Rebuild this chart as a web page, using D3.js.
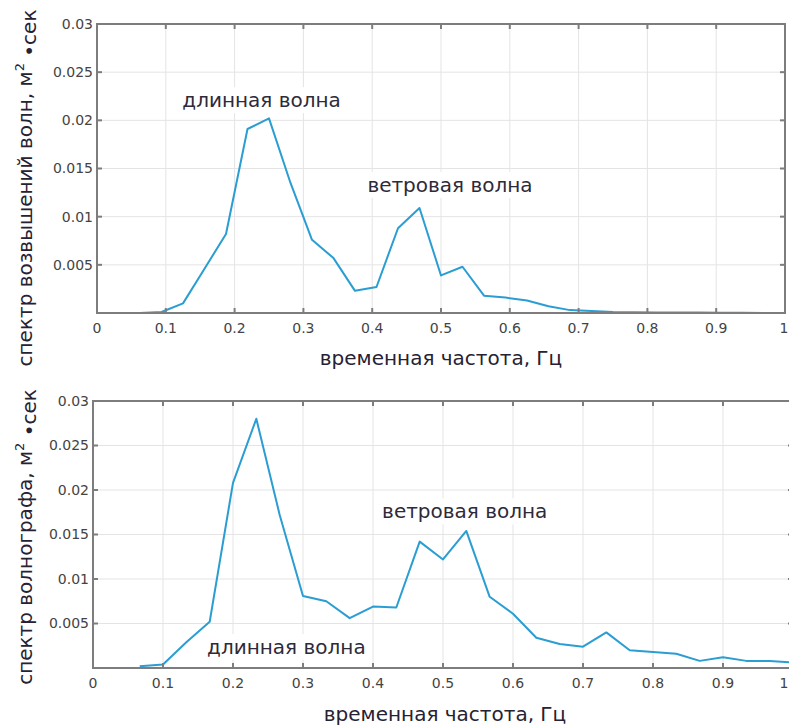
<!DOCTYPE html>
<html>
<head>
<meta charset="utf-8">
<script src="https://cdn.jsdelivr.net/npm/d3@7"></script>
<style>
  body { margin: 0; background: #fff; }
  svg { display: block; font-family: "DejaVu Sans", Verdana, sans-serif; }
  .grid line { stroke: #e4e4e4; stroke-width: 1; }
  .tick-label { fill: #444; font-size: 14px; }
  .title { fill: #262233; font-size: 20px; }
  .note { fill: #2e2a3a; font-size: 20px; }
</style>
</head>
<body>
<script>
"use strict"

// frequencies, Hz
var freqTop = [0.03125, 0.0625, 0.09375, 0.125, 0.15625, 0.1875, 0.21875, 0.25, 0.28125, 0.3125,
               0.34375, 0.375, 0.40625, 0.4375, 0.46875, 0.5, 0.53125, 0.5625, 0.59375, 0.625,
               0.65625, 0.6875, 0.71875, 0.75, 0.78125, 0.8125, 0.84375, 0.875, 0.90625, 0.9375, 0.96875];
// spectrum of wave elevations
var specTop = [0, 0, 0.0001, 0.001, 0.0046, 0.0082, 0.0191, 0.0202, 0.0135, 0.0076,
               0.0057, 0.0023, 0.0027, 0.0088, 0.0109, 0.0039, 0.0048, 0.0018, 0.0016, 0.0013,
               0.0007, 0.0003, 0.0002, 0.0001, 0.00008, 0.00006, 0.00005, 0.00004, 0.00003, 0.00002, 0.00001];

var freqBottom = [0.0667, 0.1, 0.1333, 0.1667, 0.2, 0.2333, 0.2667, 0.3, 0.3333, 0.3667,
                  0.4, 0.4333, 0.4667, 0.5, 0.5333, 0.5667, 0.6, 0.6333, 0.6667, 0.7,
                  0.7333, 0.7667, 0.8, 0.8333, 0.8667, 0.9, 0.9333, 0.9667, 1.0];
// wave recorder spectrum
var specBottom = [0.0002, 0.0004, 0.0029, 0.0052, 0.0208, 0.028, 0.0172, 0.0081, 0.0075, 0.0056,
                  0.0069, 0.0068, 0.0142, 0.0122, 0.0154, 0.008, 0.0061, 0.0034, 0.0027, 0.0024,
                  0.004, 0.002, 0.0018, 0.0016, 0.0008, 0.0012, 0.0008, 0.0008, 0.0006];

var xTicks = [0, 0.1, 0.2, 0.3, 0.4, 0.5, 0.6, 0.7, 0.8, 0.9, 1];
var yTicks = [0.005, 0.01, 0.015, 0.02, 0.025, 0.03];
var xTitle = "временная частота, Гц";

var W = 789, H = 727;
var svg = d3.select("body").append("svg")
    .attr("width", W)
    .attr("height", H);

function panel(cfg) {
  var x = d3.scaleLinear().domain([0, 1]).range([cfg.left, cfg.right]);
  var y = d3.scaleLinear().domain([0, 0.03]).range([cfg.bottom, cfg.top]);
  var g = svg.append("g");

  // grid
  var grid = g.append("g").attr("class", "grid");
  grid.selectAll(".gx").data(xTicks.slice(1, -1)).enter().append("line")
      .attr("x1", function(d) { return x(d); }).attr("x2", function(d) { return x(d); })
      .attr("y1", cfg.top).attr("y2", cfg.bottom);
  grid.selectAll(".gy").data(yTicks.slice(0, -1)).enter().append("line")
      .attr("x1", cfg.left).attr("x2", cfg.right)
      .attr("y1", function(d) { return y(d); }).attr("y2", function(d) { return y(d); });

  // notes with white boxes
  cfg.notes.forEach(function(n) {
    var t = g.append("text").attr("class", "note")
        .attr("x", x(n.f)).attr("y", y(n.v))
        .attr("dy", "0.35em")
        .text(n.text);
    var b = t.node().getBBox();
    g.insert("rect", "text")
        .attr("x", b.x - 3).attr("y", b.y - 1)
        .attr("width", b.width + 6).attr("height", b.height + 2)
        .attr("fill", "#fff");
  });

  // line
  var line = d3.line()
      .x(function(d) { return x(d[0]); })
      .y(function(d) { return y(d[1]); });
  g.append("path")
      .datum(d3.zip(cfg.freq, cfg.spec))
      .attr("d", line)
      .attr("fill", "none")
      .attr("stroke", "#2a9dd3")
      .attr("stroke-width", 2)
      .attr("stroke-linejoin", "round");

  // frame with inner ticks on all sides
  g.append("rect")
      .attr("x", cfg.left).attr("y", cfg.top)
      .attr("width", cfg.right - cfg.left).attr("height", cfg.bottom - cfg.top)
      .attr("fill", "none").attr("stroke", "#7d7d7d").attr("stroke-width", 2);
  var ticks = g.append("g").attr("stroke", "#7d7d7d").attr("stroke-width", 2);
  xTicks.forEach(function(d) {
    ticks.append("line").attr("x1", x(d)).attr("x2", x(d)).attr("y1", cfg.bottom).attr("y2", cfg.bottom - 5);
    ticks.append("line").attr("x1", x(d)).attr("x2", x(d)).attr("y1", cfg.top).attr("y2", cfg.top + 5);
  });
  yTicks.forEach(function(d) {
    ticks.append("line").attr("x1", cfg.left).attr("x2", cfg.left + 5).attr("y1", y(d)).attr("y2", y(d));
    ticks.append("line").attr("x1", cfg.right).attr("x2", cfg.right - 5).attr("y1", y(d)).attr("y2", y(d));
  });

  // tick labels (keep the last one inside the page)
  g.selectAll(".xl").data(xTicks).enter().append("text")
      .attr("class", "tick-label")
      .attr("x", function(d) { return Math.min(x(d), W - 5); })
      .attr("y", cfg.bottom + 15)
      .attr("dy", "0.35em")
      .attr("text-anchor", "middle")
      .text(function(d) { return d === 0 ? "0" : d3.format("")(d); });
  g.selectAll(".yl").data(yTicks).enter().append("text")
      .attr("class", "tick-label")
      .attr("x", cfg.left - 4)
      .attr("y", function(d) { return y(d); })
      .attr("dy", "0.35em")
      .attr("text-anchor", "end")
      .text(function(d) { return d3.format("")(+d.toFixed(3)); });

  // axis titles
  g.append("text").attr("class", "title")
      .attr("x", cfg.xTitleX).attr("y", cfg.xTitleY)
      .attr("text-anchor", "middle")
      .text(xTitle);
  var yt = g.append("text").attr("class", "title")
      .attr("transform", "translate(" + cfg.yTitleX + "," + cfg.yTitleY + ") rotate(-90)")
      .attr("text-anchor", "middle");
  yt.append("tspan").text(cfg.yTitle);
  yt.append("tspan").attr("dy", "-0.6em").attr("font-size", "13px").text("2");
  yt.append("tspan").attr("dy", "0.6em").text(" •сек");
}

panel({
  left: 97, right: 785, top: 24, bottom: 313,
  freq: freqTop, spec: specTop,
  notes: [{f: 0.124, v: 0.0221, text: "длинная волна"},
          {f: 0.393, v: 0.0133, text: "ветровая волна"}],
  xTitleX: 441, xTitleY: 365,
  yTitle: "спектр возвышений волн, м", yTitleX: 32, yTitleY: 188
});

panel({
  left: 93, right: 793, top: 401, bottom: 668,
  freq: freqBottom, spec: specBottom,
  notes: [{f: 0.163, v: 0.00235, text: "длинная волна"},
          {f: 0.413, v: 0.0176, text: "ветровая волна"}],
  xTitleX: 445, xTitleY: 721,
  yTitle: "спектр волнографа, м", yTitleX: 32, yTitleY: 537
});
</script>
</body>
</html>
